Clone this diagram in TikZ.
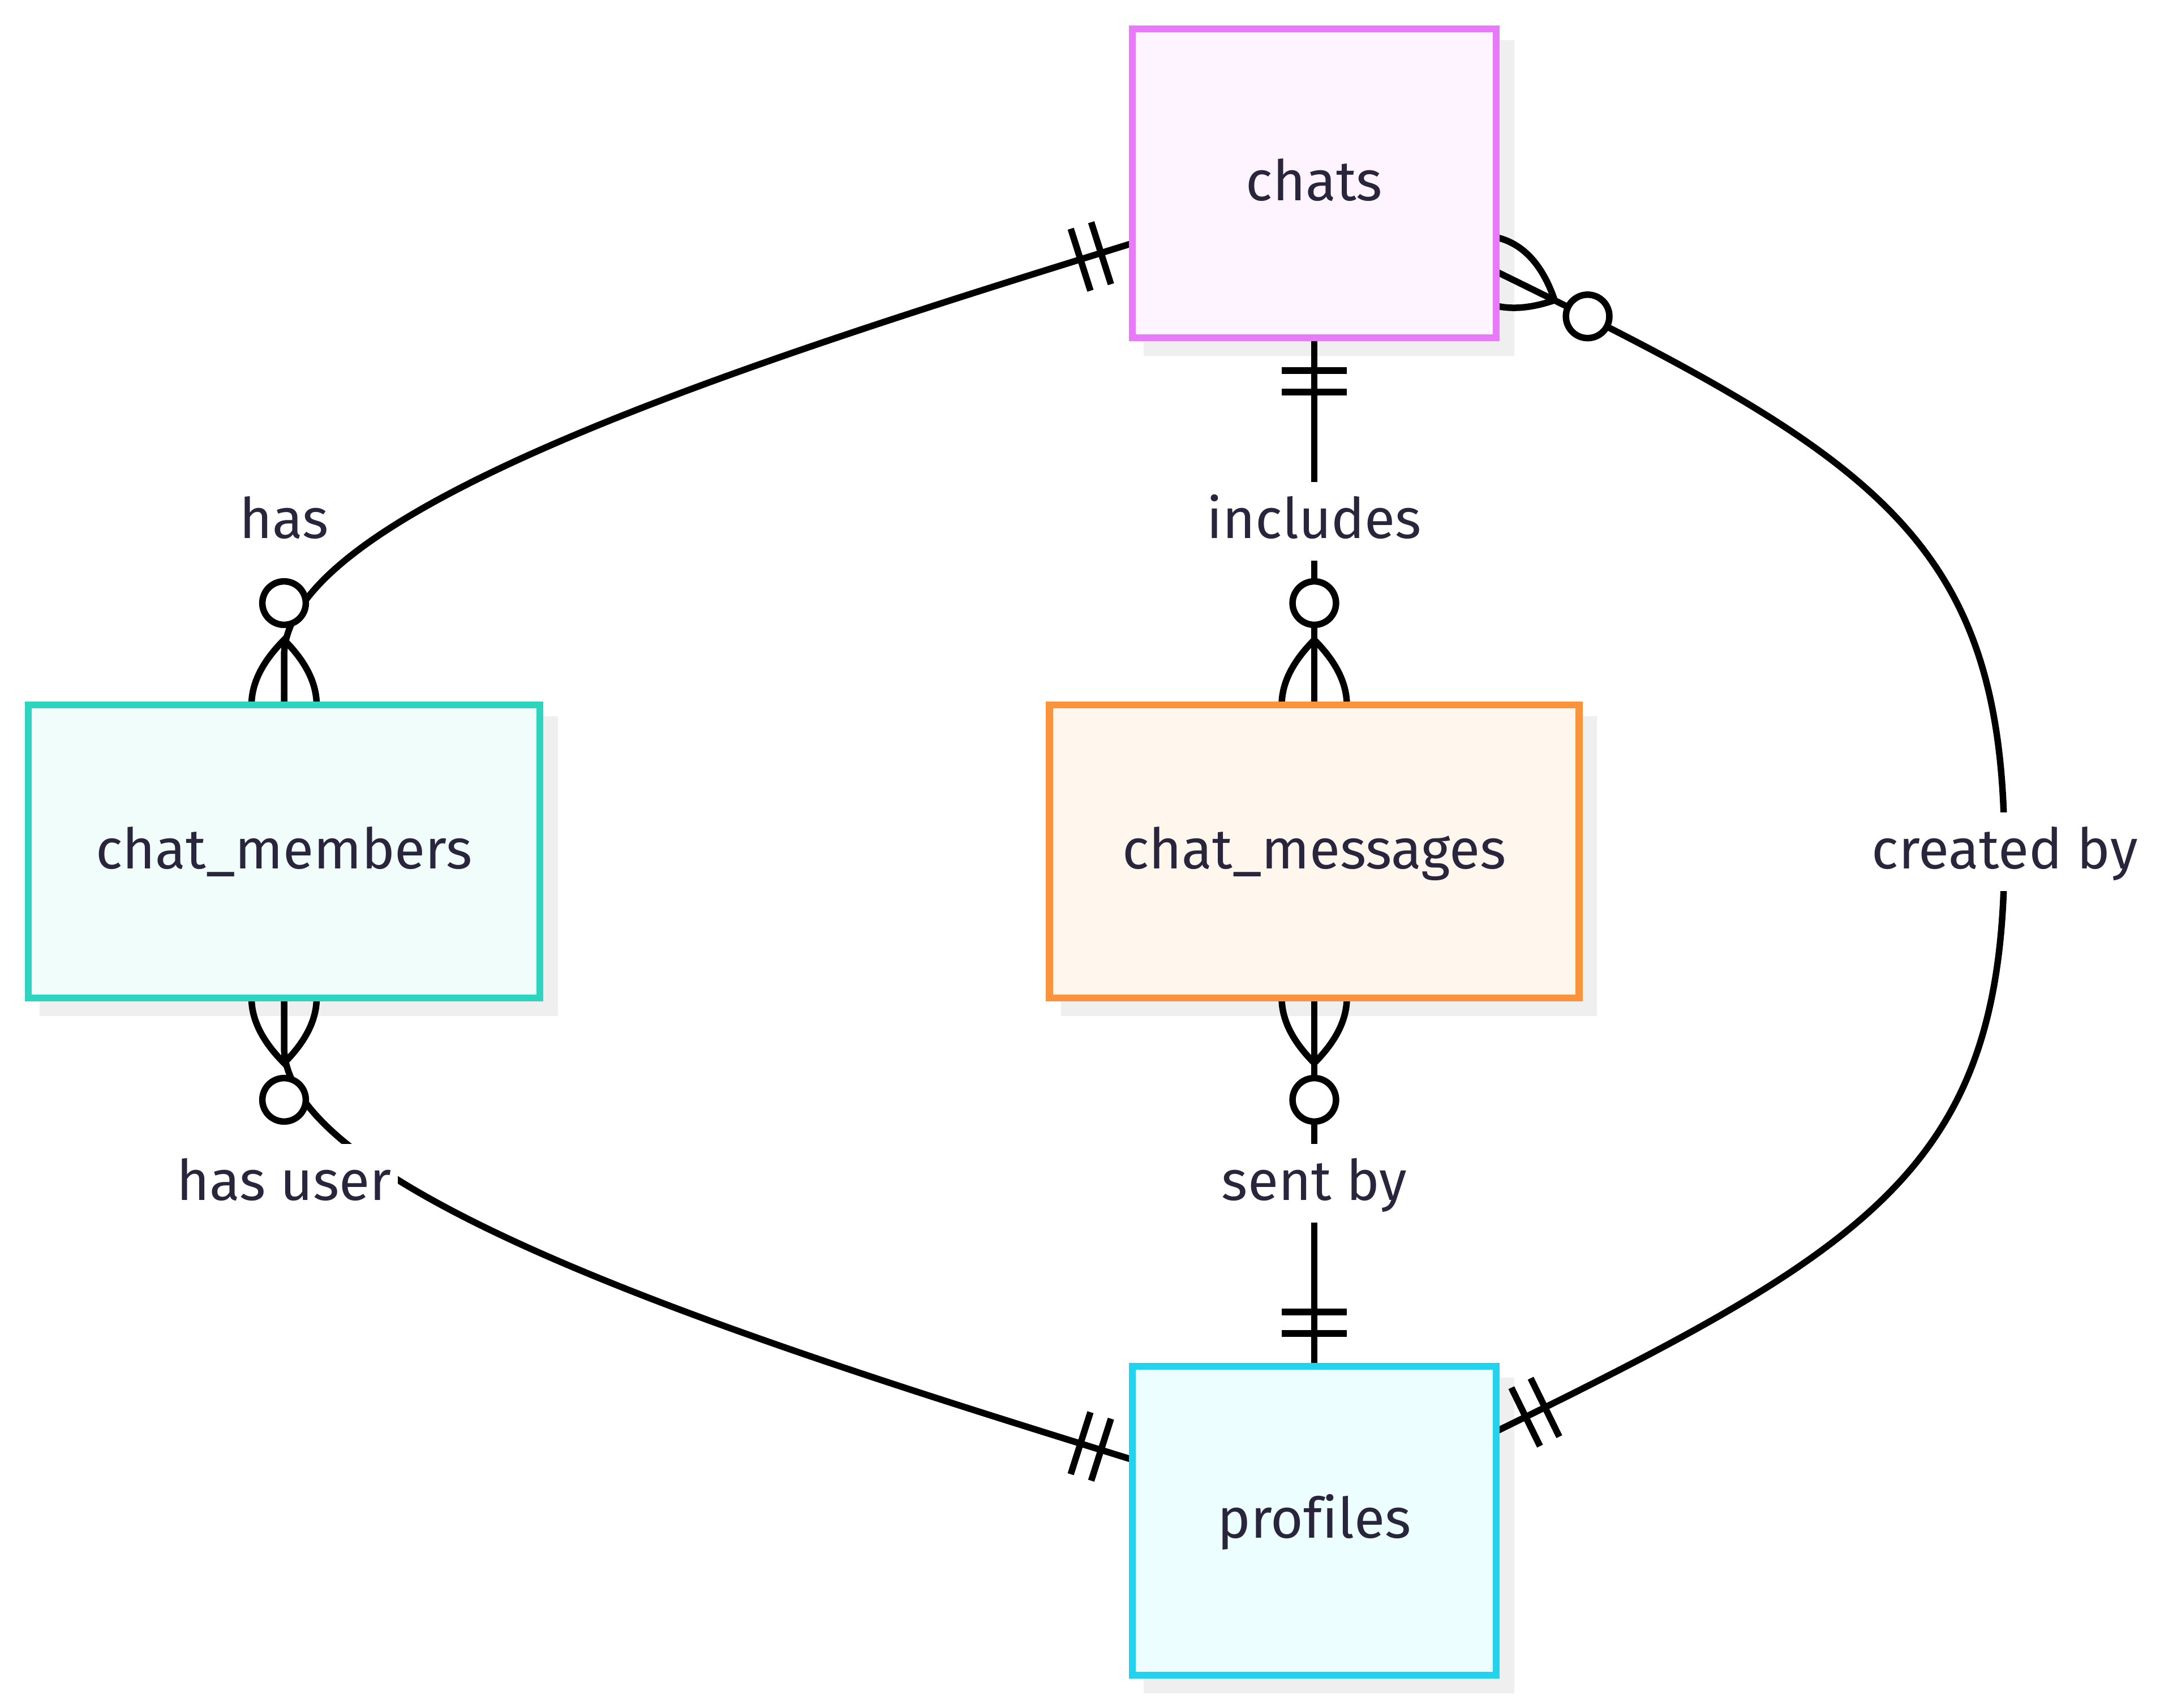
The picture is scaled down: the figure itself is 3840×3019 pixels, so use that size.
\documentclass[tikz,border=0pt]{standalone}
\usepackage{fontspec}
\setmainfont{Fira Sans}[Ligatures=CommonOff]
\usetikzlibrary{calc}
\pgfdeclarelayer{bg}
\pgfdeclarelayer{fg}
\pgfsetlayers{bg,main,fg}
\definecolor{txtc}{HTML}{28253D}
\definecolor{shadowc}{HTML}{EFEFEF}
\definecolor{chatsLine}{HTML}{E879F9}
\definecolor{chatsFill}{HTML}{FDF4FF}
\definecolor{memLine}{HTML}{2DD4BF}
\definecolor{memFill}{HTML}{F0FDFA}
\definecolor{msgLine}{HTML}{FB923C}
\definecolor{msgFill}{HTML}{FFF7ED}
\definecolor{proLine}{HTML}{22D3EE}
\definecolor{proFill}{HTML}{ECFEFF}
% crow's foot lens: #1 point, (#2,#3) canvas dir vector, (#4,#5) canvas normal vector
\newcommand\lensmark[5]{%
  \begin{scope}[shift={#1}, x={(#2,#3)}, y={(#4,#5)}]
    \draw[rel] (-115,0) .. controls (-38.3,76.7) and (38.3,76.7) .. (115,0)
      .. controls (38.3,-76.7) and (-38.3,-76.7) .. (-115,0);
  \end{scope}}
% exactly-one bars
\newcommand\onemark[5]{%
  \begin{scope}[shift={#1}, x={(#2,#3)}, y={(#4,#5)}]
    \draw[rel] (58,-57.5) -- (58,57.5) (96,-57.5) -- (96,57.5);
  \end{scope}}
\begin{document}
\begin{tikzpicture}[x=0.1pt,y=-0.1pt,
  txtnode/.style={font=\fontsize{9.9pt}{12pt}\selectfont, text=txtc, text height=10pt, text depth=3.9pt, inner sep=0pt, outer sep=0pt},
  entity/.style={txtnode, draw, line width=1.25pt},
  rel/.style={draw=black, line width=1.15pt},
  lbl/.style={txtnode, fill=white, inner xsep=1.1pt},
  card/.style={circle, draw=black, line width=1.15pt, fill=white, minimum size=7.68pt, inner sep=0pt, outer sep=0pt}]
\useasboundingbox (0,0) rectangle (3840,3019);
\begin{pgfonlayer}{fg}
\node[entity, draw=chatsLine, fill=chatsFill, minimum width=64.3pt, minimum height=54.6pt] (chats) at (2322.5,324) {chats};
\node[entity, draw=memLine, fill=memFill, minimum width=90.4pt, minimum height=51.8pt] (members) at (502,1505) {chat\_members};
\node[entity, draw=msgLine, fill=msgFill, minimum width=93.6pt, minimum height=51.8pt] (messages) at (2322.5,1505) {chat\_messages};
\node[entity, draw=proLine, fill=proFill, minimum width=64.3pt, minimum height=54.6pt] (profiles) at (2322.5,2688) {profiles};
\end{pgfonlayer}
\begin{pgfonlayer}{bg}
\foreach \n in {chats,members,messages,profiles}
  \fill[shadowc] ($(\n.north west)+(20,20)$) rectangle ($(\n.south east)+(32,32)$);
\end{pgfonlayer}
% end points on the borders
\coordinate (chatsL) at ($(chats.north west)+(0,379)$);
\coordinate (chatsB) at (chats.south);
\coordinate (chatsR) at ($(chats.north east)+(0,429)$);
\coordinate (membersT) at (members.north);
\coordinate (membersB) at (members.south);
\coordinate (messagesT) at (messages.north);
\coordinate (messagesB) at (messages.south);
\coordinate (profilesT) at (profiles.north);
\coordinate (profilesL) at ($(profiles.south west)+(0,-381)$);
\coordinate (profilesR) at ($(profiles.south east)+(0,-431)$);
% has
\draw[rel] (chatsL) .. controls (1332.5,637) and (502,900) .. (502,1160) -- (membersT);
% includes
\draw[rel] (chatsB) -- (messagesT);
% created by
\coordinate (cbMid) at (3542,1505);
\draw[rel] (chatsR) .. controls (3319,810) and (3542,954) .. (cbMid)
  .. controls (3542,2056) and (3319,2200) .. (profilesR);
% sent by
\draw[rel] (messagesB) -- (profilesT);
% has user
\draw[rel] (membersB) -- (502,1850) .. controls (502,2110) and (1332.5,2373) .. (profilesL);
% cardinality marks
\onemark{(chatsL)}{-0.0953pt}{-0.0303pt}{0.0303pt}{-0.0953pt}
\onemark{(chatsB)}{0pt}{-0.1pt}{0.1pt}{0pt}
\onemark{(profilesT)}{0pt}{0.1pt}{0.1pt}{0pt}
\onemark{(profilesL)}{-0.0953pt}{0.0303pt}{0.0303pt}{0.0953pt}
\onemark{(profilesR)}{0.0898pt}{0.0440pt}{0.0440pt}{-0.0898pt}
\lensmark{(membersT)}{0pt}{0.1pt}{0.1pt}{0pt}
\lensmark{(messagesT)}{0pt}{0.1pt}{0.1pt}{0pt}
\lensmark{(messagesB)}{0pt}{-0.1pt}{0.1pt}{0pt}
\lensmark{(membersB)}{0pt}{-0.1pt}{0.1pt}{0pt}
\lensmark{(chatsR)}{0.0898pt}{-0.0440pt}{-0.0440pt}{-0.0898pt}
\node[card] (o1) at ($(membersT)+(0,-180)$) {};
\node[card] (o2) at ($(messagesT)+(0,-180)$) {};
\node[card] (o3) at ($(messagesB)+(0,180)$) {};
\node[card] (o4) at ($(membersB)+(0,180)$) {};
\node[card] (o5) at ($(chatsR)+(161.6,79.2)$) {};
% labels
\node[lbl] (l1) at (502,921) {has};
\node[lbl] (l2) at (2322.5,921) {includes};
\node[lbl] (l3) at (3543,1505) {created by};
\node[lbl] (l4) at (2322.5,2091) {sent by};
\node[lbl] (l5) at (502,2091) {has user};
\end{tikzpicture}
\end{document}
